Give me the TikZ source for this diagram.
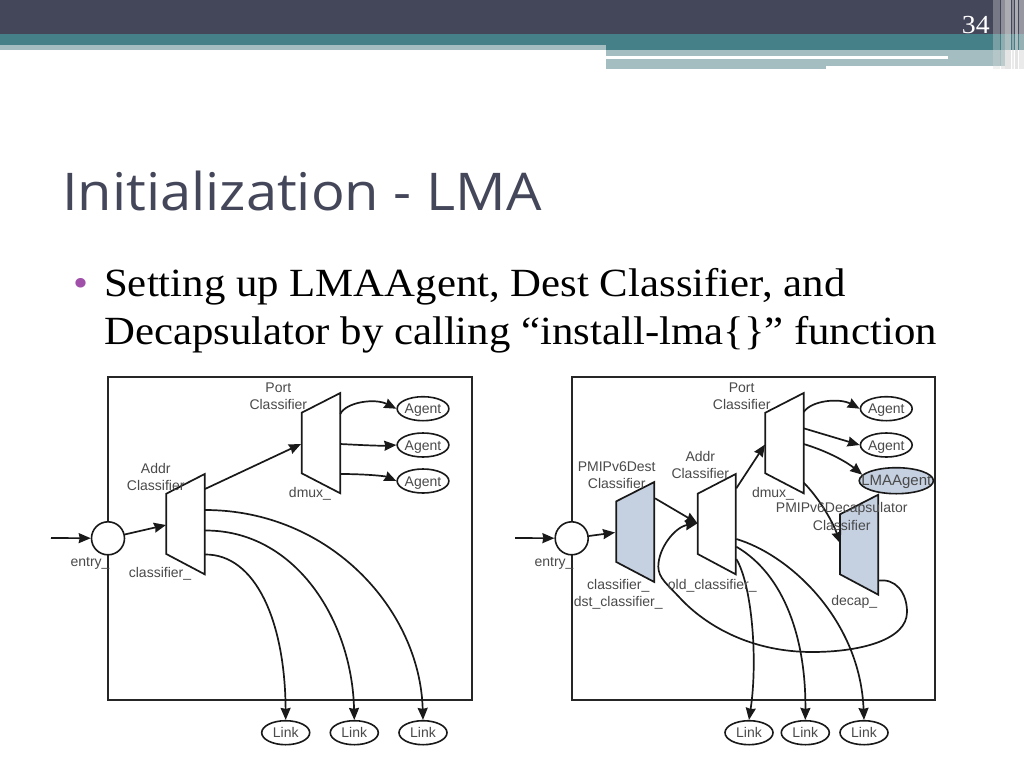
\documentclass[tikz,border=0pt]{standalone}
\usepackage{fontspec}
\setmainfont{Liberation Serif}[FakeStretch=1.07]
\newfontfamily\titlefont{Open Sans}[FakeStretch=1.077]
\newfontfamily\labelfont{Liberation Sans}
\usetikzlibrary{arrows.meta,shapes.geometric}
\definecolor{hdark}{HTML}{44465A}
\definecolor{hteal}{HTML}{458088}
\definecolor{hlight}{HTML}{A3BDC0}
\definecolor{muxblue}{HTML}{C5D0E0}
\definecolor{bulletc}{HTML}{A050A8}
\definecolor{labelc}{HTML}{4A4A4A}
\tikzset{
  x=1pt,y=-1pt,
  wire/.style={line width=1.7pt,black!90,-{Stealth[length=12pt,width=10pt,inset=1pt]}},
  framebox/.style={draw=black!85,line width=1.6pt},
  muxshape/.style={draw=black!90,line width=1.7pt,fill=white,line join=miter},
  bluemux/.style={muxshape,fill=muxblue},
  endpoint/.style={draw=black!90,line width=1.6pt,fill=white,ellipse,minimum width=48pt,minimum height=24pt,inner sep=0pt,text height=10pt,text depth=0pt,font=\labelfont\fontsize{14}{14}\selectfont,text=labelc},
  lmaend/.style={endpoint,fill=muxblue,minimum width=74pt,minimum height=26pt,inner xsep=-8.8pt,font=\labelfont\fontsize{15}{15}\selectfont},
  entrycircle/.style={circle,draw=black!90,line width=1.6pt,fill=white,minimum size=33pt,inner sep=0pt},
  tag/.style={font=\labelfont\fontsize{14}{14}\selectfont,text=labelc,inner sep=0pt},
  utag/.style={tag,yshift=-1.8pt},
  bodytext/.style={anchor=base west,inner sep=0pt,font=\fontsize{40}{40}\selectfont,text=black},
}
\begin{document}
\begin{tikzpicture}
\useasboundingbox (0,0) rectangle (1024,768);
% header
\fill[white] (0,0) rectangle (1024,768);
\fill[hdark] (0,0) rectangle (1024,34);
\fill[hteal] (0,34) rectangle (1024,50);
\fill[hlight] (0,45) rectangle (606,50);
\fill[hlight] (606,50) rectangle (1005,66);
\fill[hlight] (606,66) rectangle (826,69);
\fill[white] (606,56) rectangle (948,59);
\foreach \xa/\xb/\op in {993/1000/.35,1001/1005/.5,1005/1011/.7,1012/1014/.5,1015/1018/.7,1019/1024/.55}
  \fill[white!70!gray,opacity=\op] (\xa,0) rectangle (\xb,69);
\node[anchor=base east,inner sep=0pt,text=white,font=\fontsize{26}{26}\selectfont] (pagenum) at (990,34) {34};
\node[anchor=base west,inner sep=0pt,text=hdark,font=\titlefont\fontsize{52}{52}\selectfont] (title) at (62,210) {Initialization - LMA};
\node[anchor=base west,inner sep=0pt,text=bulletc,font=\fontsize{40}{40}\selectfont] (bullet) at (73,296) {•};
\node[bodytext] (line1) at (104,296) {Setting up LMAAgent, Dest Classifier, and};
\node[bodytext] (line2) at (104,344) {Decapsulator by calling “install-lma\{\}” function};

% left diagram
\draw[framebox] (108,376.7) rectangle (471.7,700);
\coordinate (Lin) at (51,538);
\coordinate (LaIn) at (166,525);
\coordinate (LaTop) at (205,489);
\coordinate (LpIn) at (301,444);
\coordinate (LaL3) at (205,510);
\coordinate (LaL2) at (205,530.5);
\coordinate (LaL1) at (205,554.5);
\coordinate (Lp1) at (340.3,414);
\coordinate (Lp2) at (340.3,444);
\coordinate (Lp3) at (340.3,474);
\path[muxshape] (166.3,493.7) -- (204.7,474) -- (204.7,574.3) -- (166.3,554) -- cycle;
\path[muxshape] (301.7,412.7) -- (340.3,393) -- (340.3,493.3) -- (301.7,473.3) -- cycle;
\node[entrycircle] (Lentry) at (108,538.3) {};
\node[endpoint] (La1) at (423,408.7) {Agent};
\node[endpoint] (La2) at (423,445) {Agent};
\node[endpoint] (La3) at (423,481) {Agent};
\node[endpoint] (Ll1) at (285.7,732.7) {Link};
\node[endpoint] (Ll2) at (354.3,732.7) {Link};
\node[endpoint] (Ll3) at (423,732.7) {Link};
\draw[wire] (Lin) -- (Lentry);
\draw[wire] (Lentry) -- (LaIn);
\draw[wire] (LaTop) -- (LpIn);
\draw[wire] (Lp1) .. controls (346,402) and (375,398) .. (La1.west);
\draw[wire] (Lp2) .. controls (360,445) and (380,446) .. (La2.west);
\draw[wire] (Lp3) .. controls (365,474) and (385,476) .. (La3.west);
\draw[wire] (LaL1) .. controls (255,554) and (285,620) .. (Ll1.north);
\draw[wire] (LaL2) .. controls (295,530) and (352,620) .. (Ll2.north);
\draw[wire] (LaL3) .. controls (330,510) and (420,610) .. (Ll3.north);
\node[tag] (Lt1) at (278.3,387.3) {Port};
\node[tag] (Lt2) at (278.3,404.3) {Classifier};
\node[tag] (Lt3) at (155.7,468.3) {Addr};
\node[tag] (Lt4) at (155.7,485) {Classifier};
\node[utag] (Lt5) at (310,492) {dmux\_};
\node[utag] (Lt6) at (90,562) {entry\_};
\node[utag] (Lt7) at (160,572) {classifier\_};

% right diagram
\draw[framebox] (571.7,376.7) rectangle (934.7,700);
\coordinate (Rin) at (515,538);
\coordinate (RdIn) at (615,532.5);
\coordinate (RdOut) at (655,498.3);
\coordinate (RaIn) at (697.5,523.3);
\coordinate (RaTop) at (736.3,488.3);
\coordinate (RpIn) at (765,444.5);
\coordinate (Rp1) at (803.7,412);
\coordinate (Rp2) at (803.7,428.3);
\coordinate (Rp3) at (803.7,444);
\coordinate (Rp4) at (803.7,482.7);
\coordinate (ReIn) at (840.5,543.5);
\coordinate (ReOut) at (878.3,580.7);
\coordinate (RaL1) at (736.3,559);
\coordinate (RaL2) at (736.3,546.7);
\coordinate (RaL3) at (736.3,539);
\path[bluemux] (616.3,501.3) -- (654.3,482) -- (654.3,582) -- (616.3,562) -- cycle;
\path[muxshape] (697.7,493.7) -- (735.7,474) -- (735.7,574.3) -- (697.7,554) -- cycle;
\path[muxshape] (765.3,412.7) -- (803.7,393) -- (803.7,493.3) -- (765.3,473.3) -- cycle;
\path[bluemux] (840,514.3) -- (878.3,494.7) -- (878.3,594.7) -- (840,574.3) -- cycle;
\node[entrycircle] (Rentry) at (571.7,538.3) {};
\node[endpoint] (Ra1) at (886.3,408.7) {Agent};
\node[endpoint] (Ra2) at (886.3,445) {Agent};
\node[lmaend] (Rlma) at (896.3,480.7) {LMAAgent};
\node[endpoint] (Rl1) at (749,732.7) {Link};
\node[endpoint] (Rl2) at (805.3,732.7) {Link};
\node[endpoint] (Rl3) at (864,732.7) {Link};
\draw[wire] (Rin) -- (Rentry);
\draw[wire] (Rentry) -- (RdIn);
\draw[wire] (RdOut) -- (RaIn);
\draw[wire] (RaTop) -- (RpIn);
\draw[wire] (Rp1) .. controls (812,400) and (840,398) .. (Ra1.west);
\draw[wire] (Rp2) -- (Ra2.west);
\draw[wire] (Rp3) .. controls (830,452) and (848,463) .. (Rlma.170);
\draw[wire] (Rp4) .. controls (818,497) and (832,520) .. (ReIn);
\draw[wire] (ReOut) .. controls (895,578) and (907,592) .. (907,612)
   .. controls (907,640) and (860,652) .. (812,652)
   .. controls (750,652) and (705,625) .. (680,598)
   .. controls (668,585) and (658.3,578) .. (658.3,566.7)
   .. controls (658.3,548) and (675,527) .. (RaIn);
\draw[wire] (RaL1) .. controls (752,585) and (758,660) .. (Rl1.north);
\draw[wire] (RaL2) .. controls (785,575) and (806,640) .. (Rl2.north);
\draw[wire] (RaL3) .. controls (790,555) and (860,620) .. (Rl3.north);
\node[tag] (Rt1) at (741.7,387.3) {Port};
\node[tag] (Rt2) at (741.7,404.3) {Classifier};
\node[tag] (Rt3) at (616.7,466.7) {PMIPv6Dest};
\node[tag] (Rt4) at (616.7,483.7) {Classifier};
\node[tag] (Rt5) at (700.3,456) {Addr};
\node[tag] (Rt6) at (700.3,473) {Classifier};
\node[utag] (Rt7) at (773,492) {dmux\_};
\node[tag] (Rt8) at (841.7,508.7) {PMIPv6Decapsulator};
\node[tag] (Rt9) at (841.7,525.7) {Classifier};
\node[utag] (Rt10) at (554,562) {entry\_};
\node[utag] (Rt11) at (618.3,583.7) {classifier\_};
\node[utag] (Rt12) at (618.3,601) {dst\_classifier\_};
\node[utag] (Rt13) at (712.3,584) {old\_classifier\_};
\node[utag] (Rt14) at (854.3,600) {decap\_};
\end{tikzpicture}
\end{document}
